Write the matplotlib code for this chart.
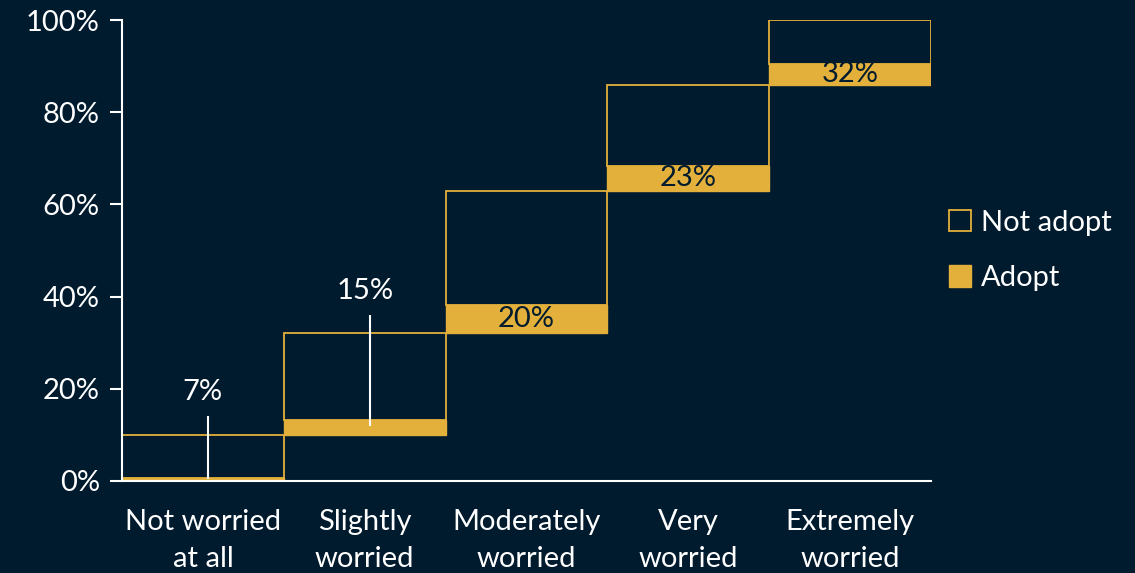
import numpy as np
import matplotlib.pyplot as plt

# share of respondents in each worry group (%) and adoption rate within the group (%)
categories = ["Not worried\nat all", "Slightly\nworried", "Moderately\nworried",
              "Very\nworried", "Extremely\nworried"]
group_share = [10, 22, 31, 23, 14]
adopt_rate = [7, 15, 20, 23, 32]

bg = "#001a2e"
gold = "#e3b03b"

plt.rcParams['font.family'] = ['Lato', 'DejaVu Sans']

share = np.array(group_share, dtype=float)
rate = np.array(adopt_rate, dtype=float)
base = np.concatenate([[0], np.cumsum(share)[:-1]])
adopt = share * rate / 100
not_adopt = share - adopt
x = np.arange(len(categories))

fig = plt.figure(figsize=(11.35, 5.73), dpi=100, facecolor=bg)
ax = fig.add_axes([0.1075, 0.1606, 0.7128, 0.8044], facecolor=bg)

ax.bar(x, not_adopt, bottom=base + adopt, width=1.0, facecolor="none",
       edgecolor=gold, linewidth=1.3, label="Not adopt")
ax.bar(x, adopt, bottom=base, width=1.0, color=gold,
       edgecolor=gold, linewidth=1.0, label="Adopt")

fs = 21
for i in range(len(x)):
    top = base[i] + share[i]
    if adopt[i] < 4:
        # thin bars: label above the group with a leader line
        ax.vlines(x[i] + 0.03, base[i] + adopt[i] * 0.6, top + 4.0,
                  color="white", linewidth=1.5)
        ax.text(x[i], top + 9.3, f"{adopt_rate[i]}%", color="white",
                ha="center", va="center", fontsize=fs)
    else:
        ax.text(x[i], base[i] + adopt[i] / 2, f"{adopt_rate[i]}%", color=bg,
                ha="center", va="center", fontsize=fs)

ax.set_xlim(-0.5, len(x) - 0.5)
ax.set_ylim(0, 100)
ax.set_yticks(np.arange(0, 101, 20))
ax.set_yticklabels([f"{v}%" for v in range(0, 101, 20)])
ax.set_xticks(x)
ax.set_xticklabels(categories, linespacing=1.55)

for s in ["top", "right"]:
    ax.spines[s].set_visible(False)
for s in ["left", "bottom"]:
    ax.spines[s].set_color("white")
    ax.spines[s].set_linewidth(1.5)
ax.tick_params(axis="y", colors="white", labelsize=fs, length=9, width=1.5, pad=7)
ax.tick_params(axis="x", colors="white", labelsize=fs, length=0, pad=20)

leg = ax.legend(loc="center left", bbox_to_anchor=(0.99, 0.5), frameon=False,
                fontsize=fs, labelcolor="white", handlelength=0.75, handleheight=0.75,
                handletextpad=0.35, labelspacing=1.0)

fig.savefig("out.png", dpi=100, facecolor=bg)
